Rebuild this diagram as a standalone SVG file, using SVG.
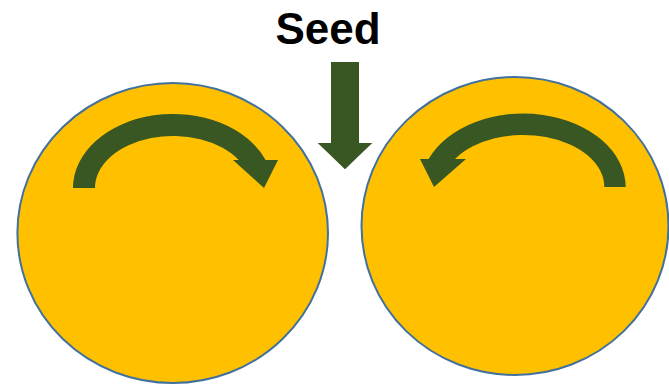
<svg xmlns="http://www.w3.org/2000/svg" width="669" height="384" viewBox="0 0 669 384">
<style>
.roll{fill:#FFC000;stroke:#41719C;stroke-width:2}
.arr{fill:#385723;stroke:none}
.lbl{font-family:"Liberation Sans",Arial,sans-serif;font-weight:bold;font-size:44px;fill:#000}
</style>
<rect width="669" height="384" fill="#fff"/>
<g id="left-roll">
<ellipse class="roll" cx="172.7" cy="233" rx="155.3" ry="150"/>
<path class="arr" d="M73,188 A100,74 0 0 1 265.6,160 L278,160 L264,188 L233,160 L238.7,160 A78,52 0 0 0 95,188 Z"/>
</g>
<g id="right-roll">
<ellipse class="roll" cx="515" cy="226" rx="153.5" ry="149"/>
<path class="arr" d="M625.7,187 A102.5,74 0 0 0 428.6,159 L420,159 L434,187 L466,159 L455,159 A81,52 0 0 1 604.3,187 Z"/>
</g>
<g id="seed">
<text class="lbl" x="328" y="44" text-anchor="middle">Seed</text>
</g>
<g id="connectors">
<path class="arr" d="M331,62 L359,62 L359,143 L372.3,143 L345,169.3 L317.7,143 L331,143 Z"/>
</g>
</svg>
